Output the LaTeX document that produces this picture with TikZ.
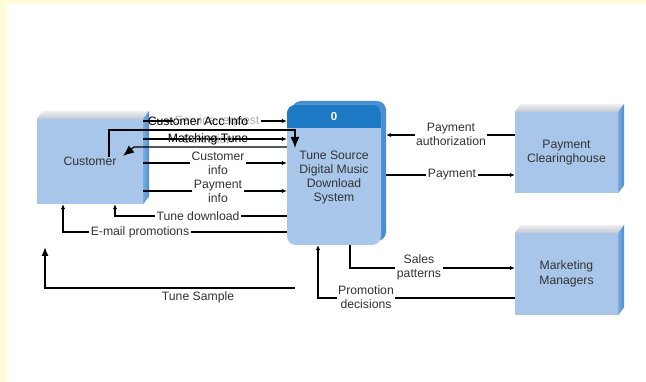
\documentclass[tikz,border=0pt]{standalone}
\usepackage{fontspec}
\setmainfont{Liberation Sans}
\usetikzlibrary{arrows.meta,calc}

\definecolor{bandyellow}{HTML}{FFFCD6}
\definecolor{boxfront}{HTML}{A8C6E9}
\definecolor{boxside}{HTML}{4D8ED2}
\definecolor{boxtopA}{HTML}{EEF0F3}
\definecolor{boxtopB}{HTML}{C3C9D3}
\definecolor{procfill}{HTML}{A9C7EA}
\definecolor{prochead}{HTML}{1F7AC6}
\definecolor{procshadow}{HTML}{4A8FD4}
\definecolor{labeltext}{HTML}{333333}

\tikzset{
  lbl/.style={font=\fontsize{12.2}{13.8}\selectfont, text=labeltext, align=center, inner sep=1.5pt},
  gaplbl/.style={lbl, fill=white},
  flow/.style={draw=black, line width=1.1pt, -{Latex[length=5pt,width=4.5pt]}},
  bigflow/.style={draw=black, line width=1.3pt, -{Latex[length=11pt,width=9pt]}},
  sampleflow/.style={draw=black, line width=1.3pt, -{Latex[length=9pt,width=7pt]}},
  entity/.style={rectangle, fill=boxfront, inner sep=0pt, align=center,
    font=\fontsize{12.2}{14.8}\selectfont, text=labeltext},
  procbox/.style={rectangle, rounded corners=9pt, fill=procfill, inner sep=0pt,
    minimum width=94pt, minimum height=140pt},
}

% top and right faces of a 3D external entity box
\newcommand\drawentityfaces[1]{%
  \shade[top color=boxtopA, bottom color=boxtopB]
    (#1.north west) -- ++(6,-8) -- ($(#1.north east)+(6,-8)$) -- (#1.north east) -- cycle;
  \shade[left color=boxside!75, right color=boxside]
    (#1.north east) -- ++(6,-8) -- ($(#1.south east)+(6,-8)$) -- (#1.south east) -- cycle;
}

\begin{document}
\begin{tikzpicture}[x=1pt, y=-1pt]
  \useasboundingbox (0,0) rectangle (646,382);
  \fill[white] (0,0) rectangle (646,382);
  \fill[bandyellow] (0,0) rectangle (646,3);
  \fill[bandyellow] (0,0) rectangle (7,382);

  % external entities
  \node[entity, minimum width=106pt, minimum height=85pt] (cust) at (90,161.5) {Customer};
  \drawentityfaces{cust}
  \node[entity, minimum width=103pt, minimum height=81pt] (pch) at (566.5,152.5) {Payment\\Clearinghouse};
  \drawentityfaces{pch}
  \node[entity, minimum width=103pt, minimum height=82pt] (mkt) at (566.5,274) {Marketing\\Managers};
  \drawentityfaces{mkt}

  % process
  \fill[procshadow, rounded corners=9pt] (292,101) rectangle (386,241);
  \node[procbox] (proc) at (334,175) {};
  \begin{scope}
    \clip[rounded corners=9pt] (proc.north west) rectangle (proc.south east);
    \fill[prochead] (proc.north west) rectangle ($(proc.north east)+(0,23)$);
  \end{scope}
  \node[font=\bfseries\fontsize{11.5}{13}\selectfont, text=white] (procid) at (334,117) {0};
  \node[lbl, font=\fontsize{12.2}{14.3}\selectfont] (procname) at (334,177.5)
    {Tune Source\\Digital Music\\Download\\System};
  \coordinate (proce) at ($(proc.east)+(5,0)$);

  % row levels
  \coordinate (yA) at (0,121);
  \coordinate (yB) at (0,139);
  \coordinate (yC) at (0,163);
  \coordinate (yD) at (0,191);
  \coordinate (yE) at (0,135);
  \coordinate (yF) at (0,175);

  % Customer -> process
  \draw[flow] (cust.east |- yA) -- (proc.west |- yA);
  \node[lbl, fill=white, text=gray!65] (svcreq) at (217,121) {Service request};
  \node[lbl, text=black] (accinfo) at (198,121) {Customer Acc Info};

  \draw[flow] (cust.east |- yB) -- (proc.west |- yB);
  \node[lbl, text=gray!65] (selection) at (208,139) {Selection};
  \node[lbl, text=black] (matching) at (208,139) {Matching Tune};

  \coordinate (selstart) at (109,157);
  \coordinate (selcorner) at (295,130);
  \coordinate (selend) at (295,148);
  \draw[bigflow] (selstart) |- (selcorner) -- (selend);

  \coordinate (tuneelbow) at (134,147);
  \coordinate (tunetip) at (123,156);
  \draw[bigflow] (proc.west |- tuneelbow) -- (tuneelbow) -- (tunetip);

  \draw[flow] (cust.east |- yC) -- (proc.west |- yC);
  \node[gaplbl] (custinfo) at (218,163) {Customer\\info};

  \draw[flow] (cust.east |- yD) -- (proc.west |- yD);
  \node[gaplbl] (payinfo) at (218,191) {Payment\\info};

  % process -> Customer
  \coordinate (tdl) at (115,216);
  \draw[flow] (proc.west |- tdl) -- (tdl) -- (tdl |- cust.south);
  \node[gaplbl] (tunedl) at (198,216) {Tune download};

  \coordinate (eml) at (63,232);
  \draw[flow] (proc.west |- eml) -- (eml) -- (eml |- cust.south);
  \node[gaplbl] (email) at (140,232) {E-mail promotions};

  \coordinate (tsend) at (295,288);
  \coordinate (tstip) at (45,247);
  \draw[sampleflow] (tsend) -| (tstip);
  \node[lbl] (tunesample) at (198,297) {Tune Sample};

  % Payment Clearinghouse
  \draw[flow] (pch.west |- yE) -- (proce |- yE);
  \node[gaplbl] (payauth) at (451,134) {Payment\\authorization};
  \draw[flow] (proce |- yF) -- (pch.west |- yF);
  \node[gaplbl] (payment) at (452,175) {Payment};

  % Marketing Managers
  \coordinate (salesx) at (350,268);
  \draw[flow] (salesx |- proc.south) -- (salesx) -- (mkt.west |- salesx);
  \node[gaplbl] (sales) at (419,267) {Sales\\patterns};

  \coordinate (promx) at (318,298);
  \draw[flow] (mkt.west |- promx) -- (promx) -- (promx |- proc.south);
  \node[gaplbl] (promo) at (366,297) {Promotion\\decisions};
\end{tikzpicture}
\end{document}
